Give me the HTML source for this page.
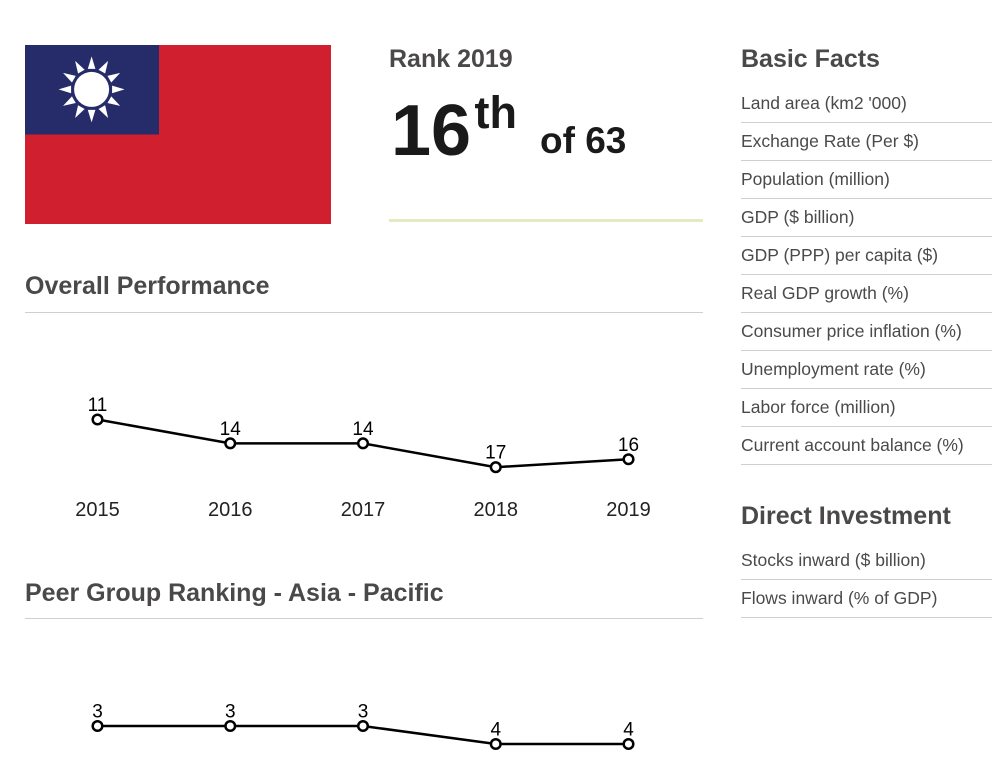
<!DOCTYPE html>
<html lang="en">
<head>
<meta charset="utf-8">
<title>Rank 2019</title>
<style>
html,body{margin:0;padding:0;background:#fff;width:992px;height:758px;overflow:hidden}
svg{display:block;font-family:"Liberation Sans",Arial,sans-serif}
.h{font-size:25px;font-weight:700;fill:#4a4848}
.r{font-size:17.5px;fill:#4a4a4a}
.rule{stroke:#cfcfcf;stroke-width:1}
</style>
</head>
<body>
<svg id="page" width="992" height="758" viewBox="0 0 992 758" xmlns="http://www.w3.org/2000/svg">
  <g>
    <rect x="25" y="45" width="306" height="179" fill="#d02030"/>
    <rect x="25" y="45" width="134" height="89.5" fill="#252c69"/>
    <g id="sun" transform="translate(91.6 89.4)"></g>
  </g>

  <g>
    <text class="h" x="389" y="67">Rank 2019</text>
    <text x="391" y="155" font-size="72" font-weight="700" fill="#1a1a1a">16</text>
    <text x="474.5" y="128" font-size="45" font-weight="700" fill="#1a1a1a">th</text>
    <text x="540" y="153" font-size="37" font-weight="700" fill="#1a1a1a">of 63</text>
    <rect x="389" y="219" width="314" height="3" fill="#e6eac2"/>
  </g>

  <text class="h" x="25" y="294">Overall Performance</text>
  <line class="rule" x1="25" x2="703" y1="312.5" y2="312.5"/>
  <g id="overall-chart"></g>

  <text class="h" x="25" y="601">Peer Group Ranking - Asia - Pacific</text>
  <line class="rule" x1="25" x2="703" y1="618.5" y2="618.5"/>
  <g id="peer-chart"></g>

  <g>
    <text class="h" x="741" y="67">Basic Facts</text>
    <text class="r" x="741" y="109">Land area (km2 '000)</text>
    <line class="rule" x1="741" x2="992" y1="122.5" y2="122.5"/>
    <text class="r" x="741" y="147">Exchange Rate (Per $)</text>
    <line class="rule" x1="741" x2="992" y1="160.5" y2="160.5"/>
    <text class="r" x="741" y="185">Population (million)</text>
    <line class="rule" x1="741" x2="992" y1="198.5" y2="198.5"/>
    <text class="r" x="741" y="223">GDP ($ billion)</text>
    <line class="rule" x1="741" x2="992" y1="236.5" y2="236.5"/>
    <text class="r" x="741" y="261">GDP (PPP) per capita ($)</text>
    <line class="rule" x1="741" x2="992" y1="274.5" y2="274.5"/>
    <text class="r" x="741" y="299">Real GDP growth (%)</text>
    <line class="rule" x1="741" x2="992" y1="312.5" y2="312.5"/>
    <text class="r" x="741" y="337">Consumer price inflation (%)</text>
    <line class="rule" x1="741" x2="992" y1="350.5" y2="350.5"/>
    <text class="r" x="741" y="375">Unemployment rate (%)</text>
    <line class="rule" x1="741" x2="992" y1="388.5" y2="388.5"/>
    <text class="r" x="741" y="413">Labor force (million)</text>
    <line class="rule" x1="741" x2="992" y1="426.5" y2="426.5"/>
    <text class="r" x="741" y="451">Current account balance (%)</text>
    <line class="rule" x1="741" x2="992" y1="464.5" y2="464.5"/>
  </g>

  <g>
    <text class="h" x="741" y="524">Direct Investment</text>
    <text class="r" x="741" y="566">Stocks inward ($ billion)</text>
    <line class="rule" x1="741" x2="992" y1="579.5" y2="579.5"/>
    <text class="r" x="741" y="604">Flows inward (% of GDP)</text>
    <line class="rule" x1="741" x2="992" y1="617.5" y2="617.5"/>
  </g>
</svg>
<script>
const years = ['2015', '2016', '2017', '2018', '2019'];
const overallRanks = [11, 14, 14, 17, 16];
const peerRanks = [3, 3, 3, 4, 4];

const NS = 'http://www.w3.org/2000/svg';
function make(tag, attrs, parent) {
  const el = document.createElementNS(NS, tag);
  Object.keys(attrs).forEach(function (k) { el.setAttribute(k, attrs[k]); });
  parent.appendChild(el);
  return el;
}

function xAxis(i) { return 97.5 + i * 132.75; }

function drawChart(parent, values, yAxis, tickY) {
  const pts = values.map(function (v, i) { return xAxis(i) + ',' + yAxis(v); }).join(' ');
  const line = make('polyline', { points: pts, fill: 'none', stroke: '#000', 'stroke-width': 2.5 }, parent);
  
  
  values.forEach(function (v, i) {
    const dot = make('circle', { cx: xAxis(i), cy: yAxis(v), r: 4.8, fill: '#fff', stroke: '#000', 'stroke-width': 2.5 }, parent);
    
    
    const label = make('text', { x: xAxis(i), y: yAxis(v) - 8.5, 'text-anchor': 'middle', 'font-size': 19, fill: '#000' }, parent);
    
    
    label.textContent = v;
    if (tickY !== null) {
      const tick = make('text', { x: xAxis(i), y: tickY, 'text-anchor': 'middle', 'font-size': 20, fill: '#222' }, parent);
      
      
      tick.textContent = years[i];
    }
  });
}

function overallY(v) { return 419.5 + (v - 11) * 7.95; }
function peerY(v) { return 726 + (v - 3) * 18; }

drawChart(document.getElementById('overall-chart'), overallRanks, overallY, 516);
drawChart(document.getElementById('peer-chart'), peerRanks, peerY, null);

const sun = document.getElementById('sun');
for (let k = 0; k < 12; k++) {
  const ray = make('polygon', { points: '-3.8,-20.5 0,-33 3.8,-20.5', fill: '#fff', transform: 'rotate(' + (k * 30) + ')' }, sun);
  
  
}
const disc = make('circle', { r: 17.5, fill: '#fff' }, sun);


</script>
</body>
</html>
